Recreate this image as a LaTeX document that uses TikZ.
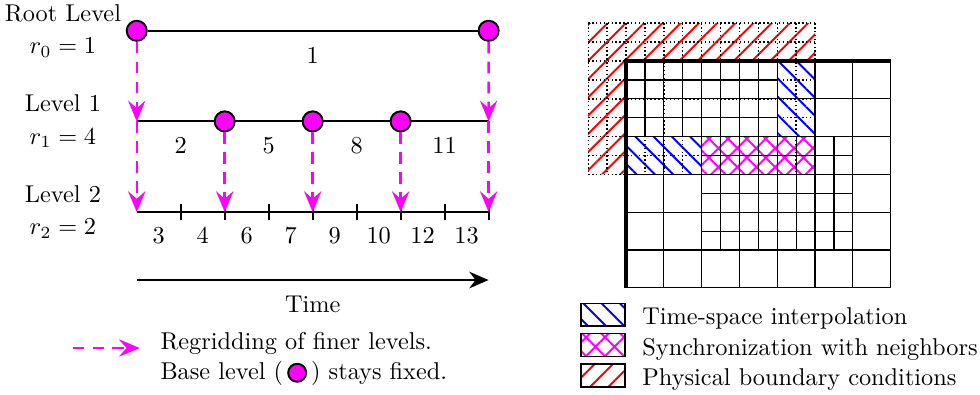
\documentclass[tikz,border=0pt]{standalone}
\usepackage{tikz}
\usetikzlibrary{arrows.meta,positioning,patterns.meta,calc}
\definecolor{regridc}{RGB}{255,0,255}
\definecolor{interpc}{RGB}{0,0,255}
\definecolor{physc}{RGB}{255,0,0}
\tikzset{
  >={Stealth[length=2.8mm,width=2.4mm]},
  dot/.style={circle,draw=black,thick,fill=regridc,minimum size=2.9mm,inner sep=0pt},
  regrid/.style={-{Stealth[length=3mm,width=2.5mm,inset=1.1mm]},draw=regridc,
    line width=1pt,dash pattern=on 4.8pt off 3.4pt},
  lvl/.style={align=center},
  level/.style={thick},
  cell/.style={line width=0.5pt},
  ghost/.style={densely dotted,line width=0.6pt},
  % hatch fills
  physbc/.style={pattern={Lines[angle=45,distance=5.3pt,line width=0.8pt]},pattern color=physc},
  interp/.style={pattern={Lines[angle=-45,distance=5.3pt,line width=0.8pt]},pattern color=interpc},
  sync/.style={pattern={Hatch[angle=45,distance=5.5pt,line width=0.8pt]},pattern color=regridc},
  legbox/.style={draw,semithick,minimum width=6.4mm,minimum height=3.3mm,inner sep=0pt},
  legtext/.style={right=1.15mm of #1,yshift=-0.6mm},
}

\begin{document}
\begin{tikzpicture}
  \useasboundingbox (0,0) rectangle (14.17,-5.697);
  % time levels
  \foreach \k in {0,...,8} {
    \coordinate (p\k) at ({1.977+0.636*\k},-1.755);
    \coordinate (s\k) at ({1.977+0.636*\k},-3.065);
  }
  \draw[level] (p0) -- (p8);
  \draw[level] (s0) -- (s8);
  \foreach \k in {1,...,8} \draw[level] ($(s\k)+(0,0.12)$) -- ($(s\k)+(0,-0.12)$);
  \node[dot] (r0) at (1.977,-0.445) {};
  \node[dot] (r8) at (7.065,-0.445) {};
  \draw[level] (r0) -- (r8);
  \foreach \k in {2,4,6} \node[dot] (q\k) at (p\k) {};
  \node (n1) at (4.521,-0.795) {1};
  \foreach \lab [count=\k from 0] in {2,5,8,11}
    \node (m\k) at ({2.613+1.272*\k},-2.107) {\lab};
  \foreach \lab [count=\k from 0] in {3,4,6,7,9,10,12,13}
    \node (c\k) at ({2.295+0.636*\k},-3.405) {\lab};
  \node[lvl] (l0) at (0.91,-0.445) {Root Level\\[1.2pt]$r_0=1$};
  \node[lvl] (l1) at (0.91,-1.755) {Level 1\\[1.2pt]$r_1=4$};
  \node[lvl] (l2) at (0.91,-3.065) {Level 2\\[1.2pt]$r_2=2$};
  % regridding
  \draw[regrid] (r0) -- (p0);
  \draw[regrid] (r8) -- (p8);
  \draw[regrid] (p0) -- (s0);
  \foreach \k in {2,4,6} \draw[regrid] (q\k) -- (s\k);
  \draw[regrid] (p8) -- (s8);
  % time axis
  \coordinate (t0) at (1.977,-4.049);
  \coordinate (t1) at (7.065,-4.049);
  \draw[->,thick] (t0) -- (t1);
  \node (time) at (4.521,-4.396) {Time};
  % legend left
  \coordinate (a0) at (1.05,-5.032);
  \coordinate (a1) at (2.02,-5.032);
  \draw[regrid] (a0) -- (a1);
  \node[anchor=west,align=left] (leg) at (2.197,-5.19)
    {Regridding of finer levels.\\Base level (\,\tikz[baseline=-0.6ex]\node[dot,minimum size=2.6mm]{};\,) stays fixed.};
  % refined grid
  \begin{scope}[shift={(9.052,-0.882)},scale=0.5466]
    \fill[physbc] (-1,1) -- (5,1) -- (5,0) -- (0,0) -- (0,-3) -- (-1,-3) -- cycle;
    \fill[interp] (4,0) rectangle (5,-2);
    \fill[interp] (0,-2) rectangle (2,-3);
    \fill[sync] (2,-2) rectangle (5,-3);
    % ghost layer
    \foreach \x in {-1,-0.5,...,5} \draw[ghost] (\x,1) -- (\x,-3);
    \foreach \y in {1,0.5,...,-3} \draw[ghost] (-1,\y) -- (5,\y);
    % coarse cells
    \foreach \x in {0,...,7} \draw[cell] (\x,0) -- (\x,-6);
    \foreach \y in {0,...,6} \draw[cell] (0,-\y) -- (7,-\y);
    % fine patches
    \foreach \x in {0.5,1.5,2.5,3.5} \draw[cell] (\x,0) -- (\x,-2);
    \foreach \y in {-0.5,-1.5} \draw[cell] (0,\y) -- (4,\y);
    \foreach \x in {2.5,3.5,4.5,5.5} \draw[cell] (\x,-2) -- (\x,-5);
    \foreach \y in {-2.5,-3.5,-4.5} \draw[cell] (2,\y) -- (6,\y);
    \draw[line width=1.8pt] (0,-6) -- (0,0) -- (7,0);
  \end{scope}
  % legend right
  \node[legbox,interp] (k1) at (8.719,-4.55) {};
  \node[legbox,sync] (k2) at (8.719,-4.99) {};
  \node[legbox,physbc] (k3) at (8.719,-5.43) {};
  \node[legtext=k1] (e1) {Time-space interpolation};
  \node[legtext=k2] (e2) {Synchronization with neighbors};
  \node[legtext=k3] (e3) {Physical boundary conditions};
\end{tikzpicture}
\end{document}
